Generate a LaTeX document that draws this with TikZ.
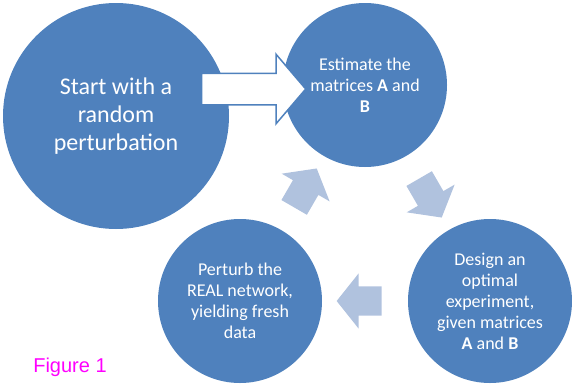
\documentclass[tikz,border=0pt]{standalone}
\usepackage{fontspec}
\setmainfont{Carlito}
\newfontfamily\captionfont{Liberation Sans}
\usetikzlibrary{shapes.arrows}
\definecolor{stageblue}{HTML}{4F81BD}
\definecolor{flowblue}{HTML}{B0C2DE}
\definecolor{captionpink}{HTML}{FF00FF}
\tikzset{
  stage/.style={circle, fill=stageblue, text=white, align=center, inner sep=0pt, minimum size=164pt},
  bigstage/.style={stage, minimum size=226pt, font=\fontsize{24}{28}\selectfont},
  smallstage/.style={stage, font=\fontsize{18}{21}\selectfont},
  loopstep/.style={single arrow, fill=flowblue, inner xsep=0pt, inner ysep=14.5pt, minimum height=45pt,
    single arrow head extend=13pt, single arrow tip angle=103, sloped, allow upside down},
  kickoff/.style={single arrow, draw=stageblue, line width=1.5pt, fill=white, inner xsep=0pt, inner ysep=15pt,
    minimum height=104pt, single arrow head extend=19pt, single arrow tip angle=99},
}
\begin{document}
\begin{tikzpicture}[x=1pt, y=-1pt]
    \useasboundingbox (0,0) rectangle (572,383);
    \node[bigstage] (start) at (116,116) {Start with a\\random\\perturbation};
    \node[smallstage] (estimate) at (365,85) {Estimate the\\matrices \textbf{A} and\\\textbf{B}};
    \node[smallstage] (design) at (490,301) {Design an\\optimal\\experiment,\\given matrices\\\textbf{A} and \textbf{B}};
    \node[smallstage] (perturb) at (240,301) {Perturb the\\REAL network,\\yielding fresh\\data};
    \node[kickoff] (go) at (247,89) {};
    \path (estimate) -- (design) node[midway, loopstep] {};
    \path (design) -- (perturb) node[midway, loopstep] {};
    \path (perturb) -- (estimate) node[midway, loopstep] {};
    \node[text=captionpink, font=\captionfont\fontsize{20}{24}\selectfont] (caption) at (70,367) {Figure 1};
\end{tikzpicture}
\end{document}
